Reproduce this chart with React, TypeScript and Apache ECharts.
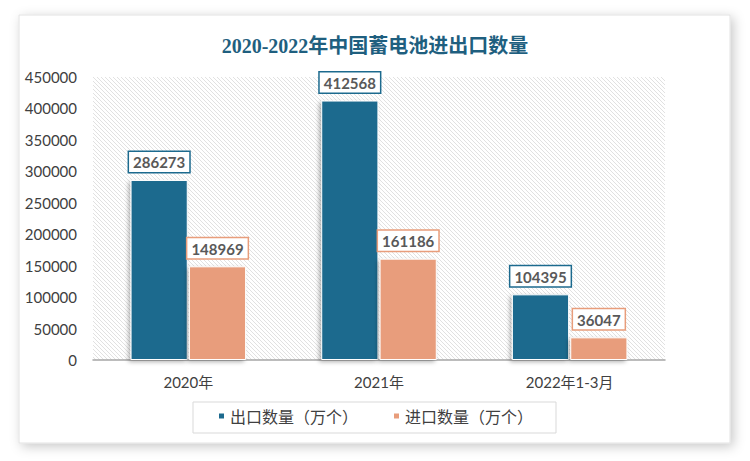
import React, { useEffect, useRef } from "react";
import * as echarts from "echarts";

const categories = ["2020年", "2021年", "2022年1-3月"];
const exportValues = [286273, 412568, 104395];
const importValues = [148969, 161186, 36047];
const seriesNames = ["出口数量（万个）", "进口数量（万个）"];
const titleText = "2020-2022年中国蓄电池进出口数量";

function makeHatch(): string {
  const c = document.createElement("canvas");
  c.width = 4;
  c.height = 4;
  const ctx = c.getContext("2d")!;
  ctx.fillStyle = "#ffffff";
  ctx.fillRect(0, 0, 4, 4);
  ctx.strokeStyle = "#dedede";
  ctx.lineWidth = 0.9;
  ctx.beginPath();
  ctx.moveTo(-1, -1);
  ctx.lineTo(5, 5);
  ctx.moveTo(-1, 3);
  ctx.lineTo(1, 5);
  ctx.moveTo(3, -1);
  ctx.lineTo(5, 1);
  ctx.stroke();
  return c.toDataURL();
}

export default function App() {
  const ref = useRef<HTMLDivElement>(null);
  useEffect(() => {
    const chart = echarts.init(ref.current!, null, { renderer: "svg" });
    const hatch = makeHatch();
    const labelFont = "Lato, 'Noto Sans CJK SC', sans-serif";
    const mkLabel = (color: string) => ({
      show: true,
      position: "top" as const,
      distance: 8,
      color: "#595959",
      fontWeight: "bold" as const,
      fontSize: 15,
      fontFamily: labelFont,
      backgroundColor: "#ffffff",
      borderColor: color,
      borderWidth: 1.5,
      padding: [3, 4, 2, 4],
    });
    chart.setOption({
      animation: false,
      backgroundColor: "#ffffff",
      graphic: [
        {
          type: "rect",
          z: -10,
          silent: true,
          shape: { x: 19, y: 15, width: 711, height: 428 },
          style: {
            fill: "#ffffff",
            stroke: "#e2e2e2",
            lineWidth: 1,
            shadowBlur: 12,
            shadowColor: "rgba(0,0,0,0.22)",
            shadowOffsetX: 3,
            shadowOffsetY: 3,
          },
        },
        {
          type: "rect",
          z: -9,
          silent: true,
          shape: { x: 193, y: 402, width: 363, height: 31 },
          style: { fill: "none", stroke: "#d9d9d9", lineWidth: 1 },
        },
      ],
      title: {
        text: titleText,
        left: "center",
        top: 31,
        textStyle: {
          color: "#1F5F7F",
          fontSize: 20,
          fontWeight: 600,
          fontFamily: "'Liberation Serif', 'Noto Sans CJK SC', serif",
        },
      },
      grid: {
        left: 93,
        right: 85,
        top: 77,
        bottom: 101,
        show: true,
        borderWidth: 0,
        backgroundColor: { image: hatch, repeat: "repeat" } as any,
      },
      legend: {
        bottom: 32,
        left: "center",
        itemWidth: 7,
        itemHeight: 7,
        itemGap: 34,
        icon: "rect",
        textStyle: { color: "#404040", fontSize: 16, fontFamily: labelFont },
        data: seriesNames,
      },
      xAxis: {
        type: "category",
        data: categories,
        axisLine: { lineStyle: { color: "#a6a6a6", width: 1.5 } },
        axisTick: { show: false },
        axisLabel: {
          color: "#404040",
          fontSize: 15,
          margin: 14,
          fontFamily: labelFont,
        },
      },
      yAxis: {
        type: "value",
        min: 0,
        max: 450000,
        interval: 50000,
        splitLine: { show: false },
        axisLine: { show: false },
        axisTick: { show: false },
        axisLabel: {
          color: "#404040",
          fontSize: 15,
          margin: 16,
          fontFamily: labelFont,
          formatter: (v: number) => String(v),
        },
      },
      series: [
        {
          name: seriesNames[0],
          type: "bar",
          data: exportValues,
          barWidth: "30%",
          barGap: "2%",
          itemStyle: {
            color: "#1C6A8E",
            borderColor: "#ffffff",
            borderWidth: 1,
            shadowBlur: 4,
            shadowColor: "rgba(0,0,0,0.3)",
            shadowOffsetX: -2,
            shadowOffsetY: 2,
          },
          label: mkLabel("#1C6A8E"),
        },
        {
          name: seriesNames[1],
          type: "bar",
          data: importValues,
          barWidth: "30%",
          itemStyle: {
            color: "#E89D7B",
            borderColor: "#ffffff",
            borderWidth: 1,
            shadowBlur: 4,
            shadowColor: "rgba(0,0,0,0.3)",
            shadowOffsetX: -2,
            shadowOffsetY: 2,
          },
          label: mkLabel("#E89D7B"),
        },
      ],
    });
    return () => chart.dispose();
  }, []);
  return (
    <div
      ref={ref}
      style={{ position: "absolute", left: 0, top: 0, width: 750, height: 461 }}
    />
  );
}
